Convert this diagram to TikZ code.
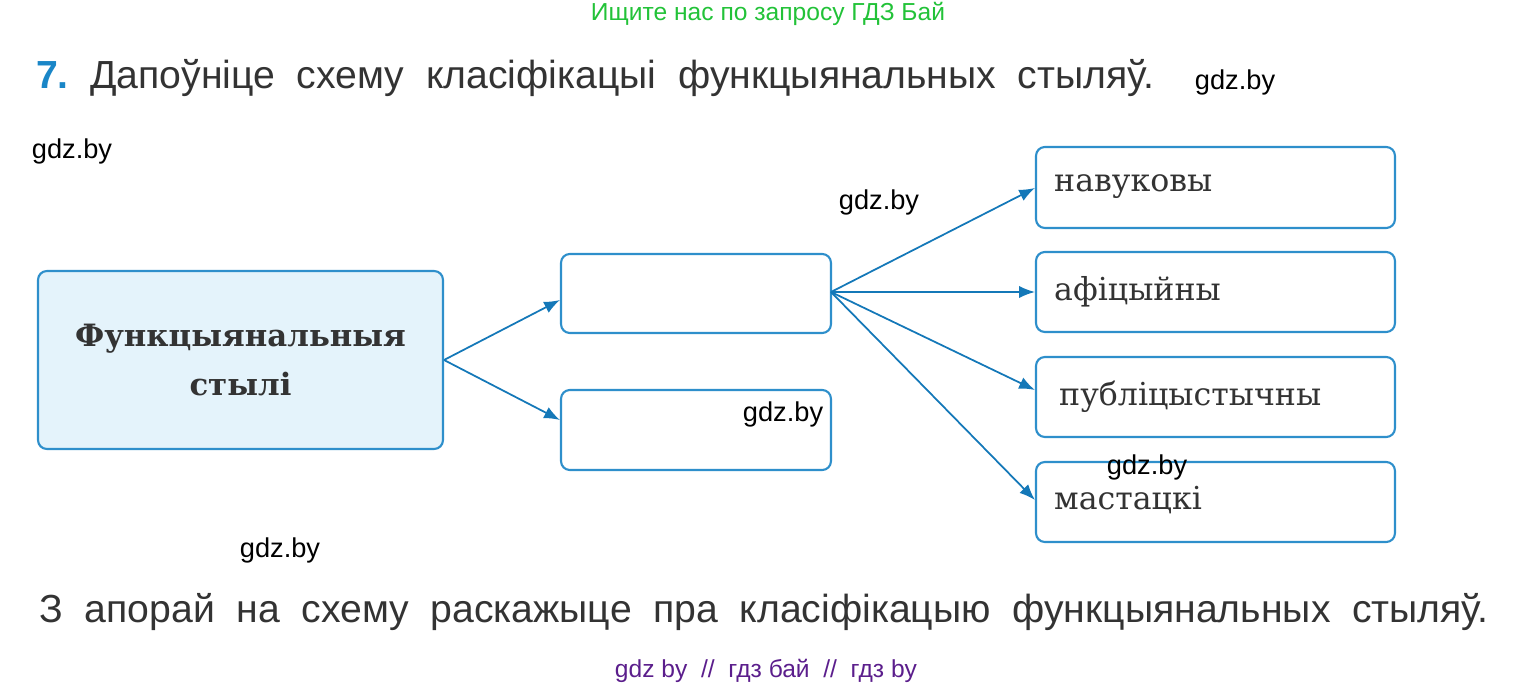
\documentclass[tikz,border=0pt]{standalone}
\usepackage{fontspec}
\setmainfont{DejaVu Serif}
\newfontfamily\sansf{Liberation Sans}
\usetikzlibrary{arrows.meta}
\definecolor{boxline}{HTML}{2E8FCB}
\definecolor{boxfill}{HTML}{E4F3FB}
\definecolor{arrowc}{HTML}{1478B8}
\definecolor{numc}{HTML}{1A86C7}
\definecolor{greenc}{HTML}{22C238}
\definecolor{purplec}{HTML}{5B1E8C}
\definecolor{textc}{HTML}{333333}
\newcommand\widesans{\sansf\fontsize{22.3}{24}\selectfont\spaceskip=0.55em\relax}
\begin{document}
\begin{tikzpicture}[x=0.02cm,y=-0.02cm,
  stylebox/.style={draw=boxline,line width=1.2pt,rounded corners=5pt,fill=white},
  link/.style={draw=arrowc,line width=1pt,-{Latex[length=9pt,width=7pt]}},
  wm/.style={font=\sansf\fontsize{15.5}{17}\selectfont,text=black},
  boxtext/.style={font=\fontsize{18}{20}\selectfont,text=textc,anchor=west},
  bigtext/.style={font=\widesans,text=textc}]
  \useasboundingbox (0,0) rectangle (1536,689);
  % headings
  \node[font=\sansf\fontsize{14}{16}\selectfont,text=greenc] (top) at (768,14) {Ищите нас по запросу ГДЗ Бай};
  \node[bigtext,anchor=west] (task) at (30,78)
    {{\color{numc}\bfseries 7.}~Дапоўніце схему класіфікацыі функцыянальных стыляў.};
  % boxes
  \node[stylebox,fill=boxfill,minimum width=8.1cm,minimum height=3.56cm,align=center,
    font=\bfseries\fontsize{17.5}{28}\selectfont,text=textc] (main) at (240.5,360) {Функцыянальныя\\стылі};
  \node[stylebox,minimum width=5.4cm,minimum height=1.58cm] (mid1) at (696,293.5) {};
  \node[stylebox,minimum width=5.4cm,minimum height=1.6cm] (mid2) at (696,430) {};
  \node[stylebox,minimum width=7.18cm,minimum height=1.62cm] (r1) at (1215.5,187.5) {};
  \node[stylebox,minimum width=7.18cm,minimum height=1.6cm] (r2) at (1215.5,292) {};
  \node[stylebox,minimum width=7.18cm,minimum height=1.6cm] (r3) at (1215.5,397) {};
  \node[stylebox,minimum width=7.18cm,minimum height=1.6cm] (r4) at (1215.5,502) {};
  \node[boxtext] at (1048,187) {навуковы};
  \node[boxtext] at (1048,292) {афіцыйны};
  \node[boxtext] at (1053,397) {публіцыстычны};
  \node[boxtext] at (1048,500) {мастацкі};
  % arrows
  \coordinate (fork) at (831,292);
  \draw[link] (main.east) -- (mid1.west|-0,300);
  \draw[link] (main.east) -- (mid2.west|-0,420);
  \draw[link] (fork) -- (r1.west|-0,188);
  \draw[link] (fork) -- (r2.west);
  \draw[link] (fork) -- (r3.west|-0,390);
  \draw[link] (fork) -- (r4.west|-0,500);
  % watermarks
  \node[wm] (w1) at (1235,82) {gdz.by};
  \node[wm] (w2) at (72,151) {gdz.by};
  \node[wm] (w3) at (879,202) {gdz.by};
  \node[wm] (w4) at (783,414) {gdz.by};
  \node[wm] (w5) at (1147,467) {gdz.by};
  \node[wm] (w6) at (280,550) {gdz.by};
  % footer
  \node[bigtext] (q) at (764,612)
    {З апорай на схему раскажыце пра класіфікацыю функцыянальных стыляў.};
  \node[font=\sansf\fontsize{14}{16}\selectfont,text=purplec] (bot) at (766,671) {gdz by~~//~~гдз бай~~//~~гдз by};
\end{tikzpicture}
\end{document}
